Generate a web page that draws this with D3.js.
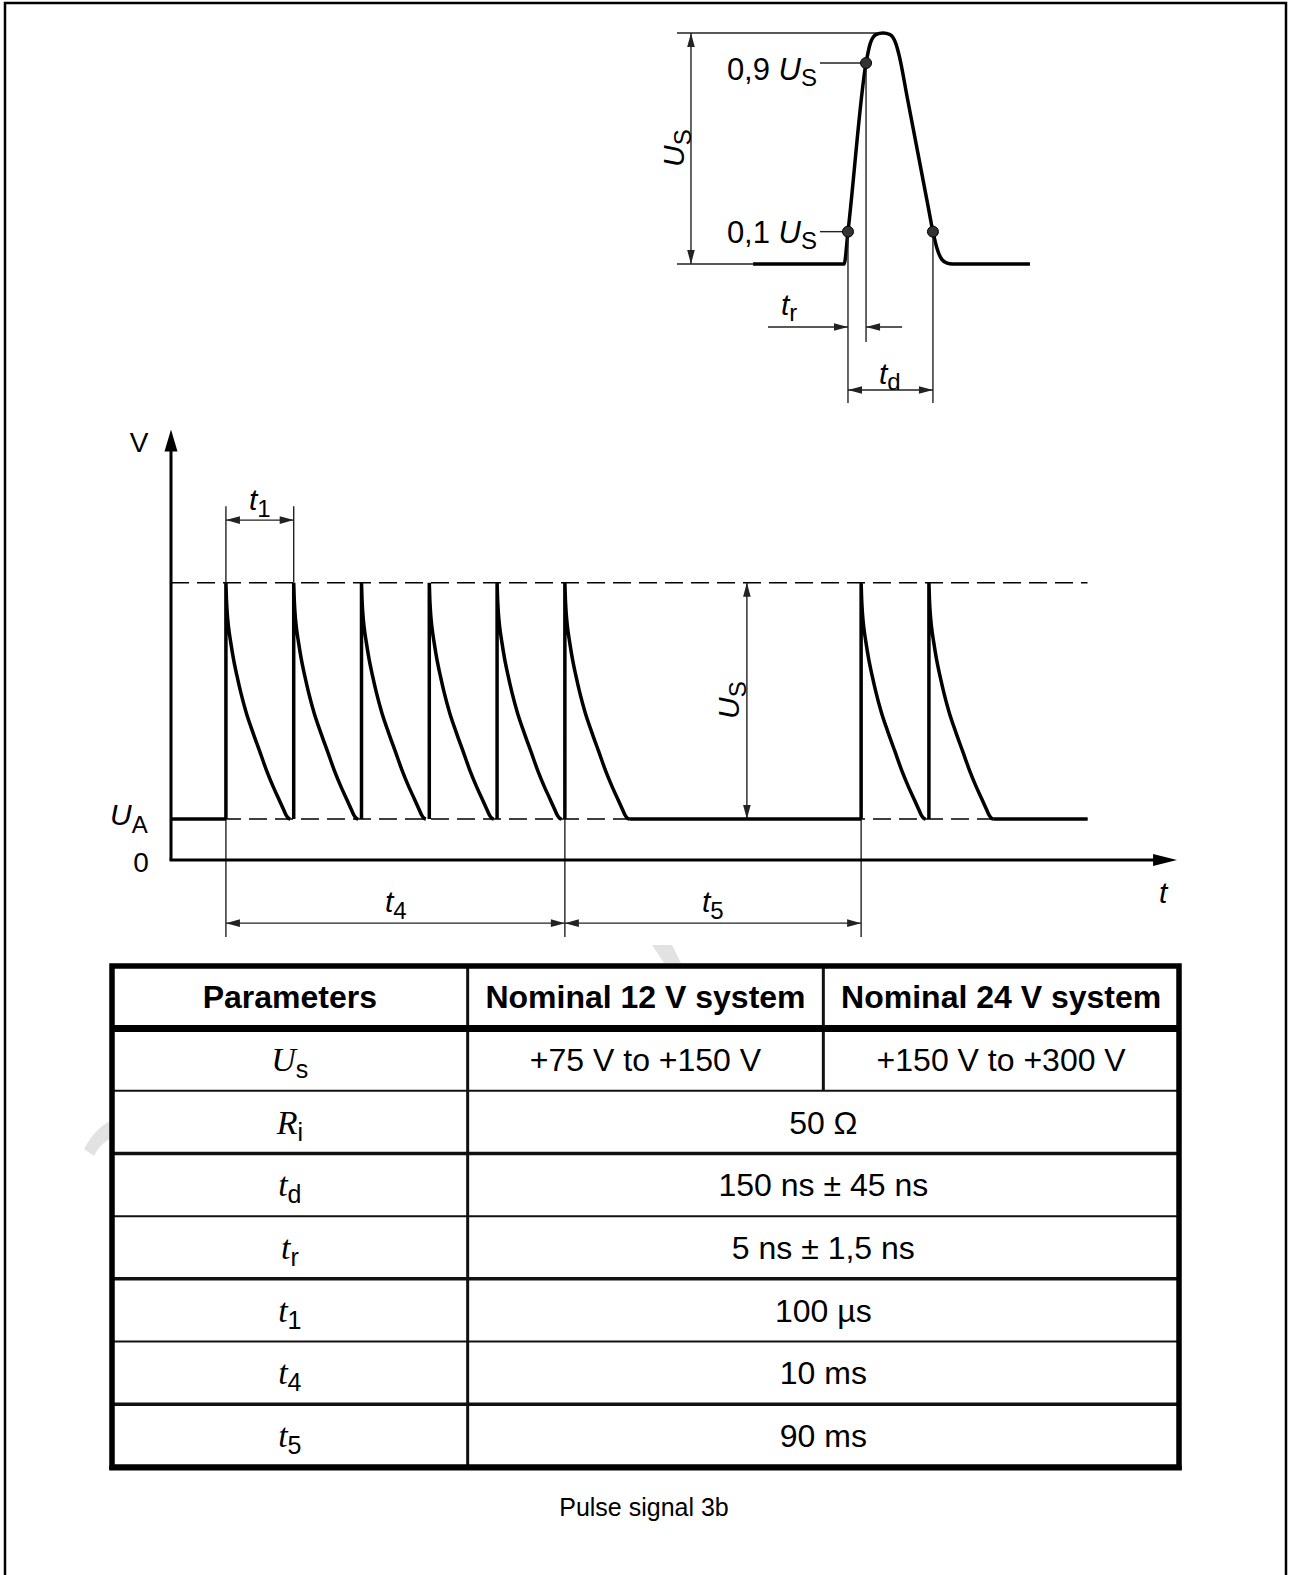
<!DOCTYPE html>
<html>
<head>
<meta charset="utf-8">
<script src="https://cdn.jsdelivr.net/npm/d3@7"></script>
<style>
  html, body { margin: 0; padding: 0; background: #fff; }
  svg { display: block; }
  text { font-family: "Liberation Sans", Arial, sans-serif; fill: #000; }
</style>
</head>
<body>
<svg id="fig" width="1292" height="1575"></svg>
<script>
// pulse train, time in units of t1
const pulseStarts = [0, 1, 2, 3, 4, 5, 9.37, 10.37];
const decayT = [0, 0.008, 0.02, 0.04, 0.07, 0.11, 0.16, 0.22, 0.3, 0.4, 0.5, 0.6, 0.7, 0.78, 0.85, 0.89, 0.92, 0.95];
const decayV = [1, 0.93, 0.87, 0.81, 0.75, 0.68, 0.61, 0.535, 0.45, 0.365, 0.285, 0.205, 0.135, 0.085, 0.04, 0.015, 0.004, 0];
const flatRuns = [[-0.81, 0], [5.95, 9.37], [11.32, 12.71]];
const levelUA = 1;
const levelUS = 5.76;

// single pulse detail (schematic time units)
const insetT = [21.5, 47.2, 48.3, 53.4, 54.6, 56.2, 58.2, 60.2, 61.8, 62.8, 65, 68, 71, 72.3, 73.5, 74.8, 76.3, 77.8, 99.7];
const insetV = [0, 0, 0.14, 0.87, 0.955, 0.993, 1, 0.993, 0.955, 0.9, 0.724, 0.484, 0.244, 0.14, 0.065, 0.02, 0.004, 0, 0];
const markT = [48.3, 53.4, 72.3];
const markV = [0.14, 0.87, 0.14];

// table
const headers = ["Parameters", "Nominal 12 V system", "Nominal 24 V system"];
const paramSym = [["U", "s"], ["R", "i"], ["t", "d"], ["t", "r"], ["t", "1"], ["t", "4"], ["t", "5"]];
const val12 = ["+75 V to +150 V", "50 Ω", "150 ns ± 45 ns", "5 ns ± 1,5 ns", "100 µs", "10 ms", "90 ms"];
const val24 = ["+150 V to +300 V", null, null, null, null, null, null];

const svg = d3.select("#fig");
const ink = "#000", thin = "#222";

// page frame
svg.append("rect")
  .attr("x", 5).attr("y", 3).attr("width", 1281).attr("height", 1600)
  .attr("fill", "none").attr("stroke", ink).attr("stroke-width", 2.5);

// faint watermark fragments
svg.append("path").attr("d", "M84,1149 Q95,1128 112,1120 L112,1138 Q100,1143 94,1156 Z").attr("fill", "#e2e2e2");
svg.append("path").attr("d", "M652,945 L672,945 L681,963 L664,963 Z").attr("fill", "#e2e2e2");

function head(g, x, y, ang, len = 14, half = 3.8, fill = thin) {
  const c = Math.cos(ang), s = Math.sin(ang);
  const bx = x - c * len, by = y - s * len;
  g.append("path")
    .attr("d", `M${x},${y}L${bx - s * half},${by + c * half}L${bx + s * half},${by - c * half}Z`)
    .attr("fill", fill);
}
function seg(g, x1, y1, x2, y2, w = 1.4, col = thin) {
  return g.append("line").attr("x1", x1).attr("y1", y1).attr("x2", x2).attr("y2", y2)
    .attr("stroke", col).attr("stroke-width", w);
}
function dim(g, x1, y1, x2, y2) {
  seg(g, x1, y1, x2, y2);
  const a = Math.atan2(y2 - y1, x2 - x1);
  head(g, x2, y2, a);
  head(g, x1, y1, a + Math.PI);
}
function sym(g, x, y, main, sub, size, subSize, dy, anchor = "start", serif = false) {
  const t = g.append("text").attr("x", x).attr("y", y).attr("text-anchor", anchor);
  t.append("tspan").text(main).attr("font-style", "italic").attr("font-size", size)
    .attr("font-family", serif ? "'Liberation Serif', 'Times New Roman', serif" : null);
  t.append("tspan").text(sub).attr("font-size", subSize).attr("dy", dy);
  return t;
}

// ---------- main pulse train ----------
const x = d3.scaleLinear().domain([-0.81, 14]).range([171, 1175]);
const y = d3.scaleLinear().domain([0, 10.5]).range([860, 429.5]);
const peak = levelUA + levelUS;
const chart = svg.append("g");

[levelUA, peak].forEach(v => {
  seg(chart, x(-0.81), y(v), x(12.71), y(v), 1.5, ink).attr("stroke-dasharray", "18,8");
});

// extension lines
seg(chart, x(0), y(8.63), x(0), y(-1.88));
seg(chart, x(1), y(8.63), x(1), y(peak));
seg(chart, x(5), y(levelUA), x(5), y(-1.88));
seg(chart, x(9.37), y(levelUA), x(9.37), y(-1.88));

// dimensions
dim(chart, x(0), y(8.29), x(1), y(8.29));
dim(chart, x(0), y(-1.54), x(5), y(-1.54));
dim(chart, x(5), y(-1.54), x(9.37), y(-1.54));
dim(chart, x(7.685), y(levelUA), x(7.685), y(peak));

// waveform
const decayLine = d3.line().x(d => x(d[0])).y(d => y(d[1])).curve(d3.curveMonotoneX);
pulseStarts.forEach(t0 => {
  const pts = decayT.map((dt, i) => [t0 + dt, levelUA + levelUS * decayV[i]]);
  chart.append("path")
    .attr("d", `M${x(t0)},${y(levelUA)}` + decayLine(pts).replace(/^M/, "L"))
    .attr("fill", "none").attr("stroke", ink).attr("stroke-width", 3.5);
});
flatRuns.forEach(r => seg(chart, x(r[0]), y(levelUA), x(r[1]), y(levelUA), 3.5, ink));

// axes
seg(chart, x(-0.81), y(0), x(-0.81), y(10.2), 3, ink);
head(chart, x(-0.81), y(10.5), -Math.PI / 2, 22, 6.5, ink);
seg(chart, x(-0.81) - 1.5, y(0), x(13.8), y(0), 3, ink);
head(chart, x(14.03), y(0), 0, 24, 6, ink);

// labels
chart.append("text").attr("x", 139).attr("y", 452).attr("text-anchor", "middle").attr("font-size", 28).text("V");
chart.append("text").attr("x", 141).attr("y", 872).attr("text-anchor", "middle").attr("font-size", 28).text("0");
sym(chart, 110, 825, "U", "A", 30, 24, 8);
sym(chart, 249, 510, "t", "1", 30, 24, 7);
sym(chart, 385, 912, "t", "4", 30, 24, 7);
sym(chart, 702, 912, "t", "5", 30, 24, 7);
chart.append("text").attr("x", 1159).attr("y", 903).attr("font-size", 30).attr("font-style", "italic").text("t");
sym(chart, 0, 0, "U", "S", 30, 24, 7).attr("transform", "translate(739,719) rotate(-90)");

// ---------- single pulse detail ----------
const xi = d3.scaleLinear().domain([0, 100]).range([677, 1031]);
const yi = d3.scaleLinear().domain([0, 1]).range([264, 33]);
const inset = svg.append("g");

seg(inset, xi(0), yi(1), xi(58.2), yi(1));
seg(inset, xi(0), yi(0), xi(21.5), yi(0));
dim(inset, xi(3.95), yi(0), xi(3.95), yi(1));

const pulseLine = d3.line().x((d, i) => xi(insetT[i])).y(d => yi(d)).curve(d3.curveMonotoneX);
inset.append("path").attr("d", pulseLine(insetV))
  .attr("fill", "none").attr("stroke", ink).attr("stroke-width", 3.5);

// extension and leader lines
seg(inset, xi(markT[0]), yi(markV[0]), xi(markT[0]), 403);
seg(inset, xi(markT[1]), yi(markV[1]), xi(markT[1]), 342);
seg(inset, xi(markT[2]), yi(markV[2]), xi(markT[2]), 403);
seg(inset, 820, yi(markV[1]), xi(markT[1]), yi(markV[1]));
seg(inset, 820, yi(markV[0]), xi(markT[0]), yi(markV[0]));

markT.forEach((t, i) => {
  inset.append("circle").attr("cx", xi(t)).attr("cy", yi(markV[i])).attr("r", 5.5)
    .attr("fill", "#333").attr("stroke", ink).attr("stroke-width", 1);
});

// t_r and t_d dimensions
seg(inset, xi(25.7), 327, xi(markT[0]), 327);
head(inset, xi(markT[0]), 327, 0);
seg(inset, xi(63.6), 327, xi(markT[1]), 327);
head(inset, xi(markT[1]), 327, Math.PI);
dim(inset, xi(markT[0]), 390, xi(markT[2]), 390);

// inset labels
const l9 = inset.append("text").attr("x", 817).attr("y", 80).attr("text-anchor", "end").attr("font-size", 31);
l9.append("tspan").text("0,9 ");
l9.append("tspan").text("U").attr("font-style", "italic");
l9.append("tspan").text("S").attr("font-size", 24).attr("dy", 6);
const l1 = inset.append("text").attr("x", 817).attr("y", 243).attr("text-anchor", "end").attr("font-size", 31);
l1.append("tspan").text("0,1 ");
l1.append("tspan").text("U").attr("font-style", "italic");
l1.append("tspan").text("S").attr("font-size", 24).attr("dy", 6);
sym(inset, 781, 315, "t", "r", 30, 24, 6);
sym(inset, 879, 384, "t", "d", 30, 24, 6);
sym(inset, 0, 0, "U", "S", 30, 24, 7).attr("transform", "translate(684,167) rotate(-90)");

// ---------- parameter table ----------
const rows = d3.scaleBand().domain(d3.range(paramSym.length)).range([1028, 1467]);
const cols = d3.scaleBand().domain([0, 1, 2]).range([112, 1179]);
const tbl = svg.append("g");
const tTop = 966, tBot = 1467;

tbl.append("rect").attr("x", cols(0)).attr("y", tTop).attr("width", 1179 - 112).attr("height", tBot - tTop)
  .attr("fill", "#fff");

d3.range(1, paramSym.length).forEach(i => {
  seg(tbl, cols(0), rows(i), 1179, rows(i), i % 2 ? 2 : 3.5, "#111");
});
seg(tbl, cols(1), tTop, cols(1), tBot, 3, "#111");
seg(tbl, cols(2), tTop, cols(2), rows(1), 3, "#111");
seg(tbl, cols(0), 1028.5, 1179, 1028.5, 7, ink);
tbl.append("rect").attr("x", cols(0)).attr("y", tTop).attr("width", 1179 - 112).attr("height", tBot - tTop)
  .attr("fill", "none").attr("stroke", ink).attr("stroke-width", 5.5);
seg(tbl, cols(0) - 2.75, tBot + 1, 1179 + 2.75, tBot + 1, 5, ink);

headers.forEach((h, i) => {
  tbl.append("text").attr("x", cols(i) + cols.bandwidth() / 2).attr("y", 1008)
    .attr("text-anchor", "middle").attr("font-size", 32).attr("font-weight", "bold").text(h);
});

paramSym.forEach((p, i) => {
  const base = rows(i) + rows.bandwidth() / 2 + 11.5;
  sym(tbl, cols(0) + cols.bandwidth() / 2, base, p[0], p[1], 34, 25, 7, "middle", true);
  const cx = val24[i] === null ? (cols(1) + 1179) / 2 : cols(1) + cols.bandwidth() / 2;
  tbl.append("text").attr("x", cx).attr("y", base).attr("text-anchor", "middle")
    .attr("font-size", 32).text(val12[i]);
  if (val24[i] !== null) {
    tbl.append("text").attr("x", cols(2) + cols.bandwidth() / 2).attr("y", base)
      .attr("text-anchor", "middle").attr("font-size", 32).text(val24[i]);
  }
});

svg.append("text").attr("x", 644).attr("y", 1516).attr("text-anchor", "middle")
  .attr("font-size", 25).text("Pulse signal 3b");
</script>
</body>
</html>
